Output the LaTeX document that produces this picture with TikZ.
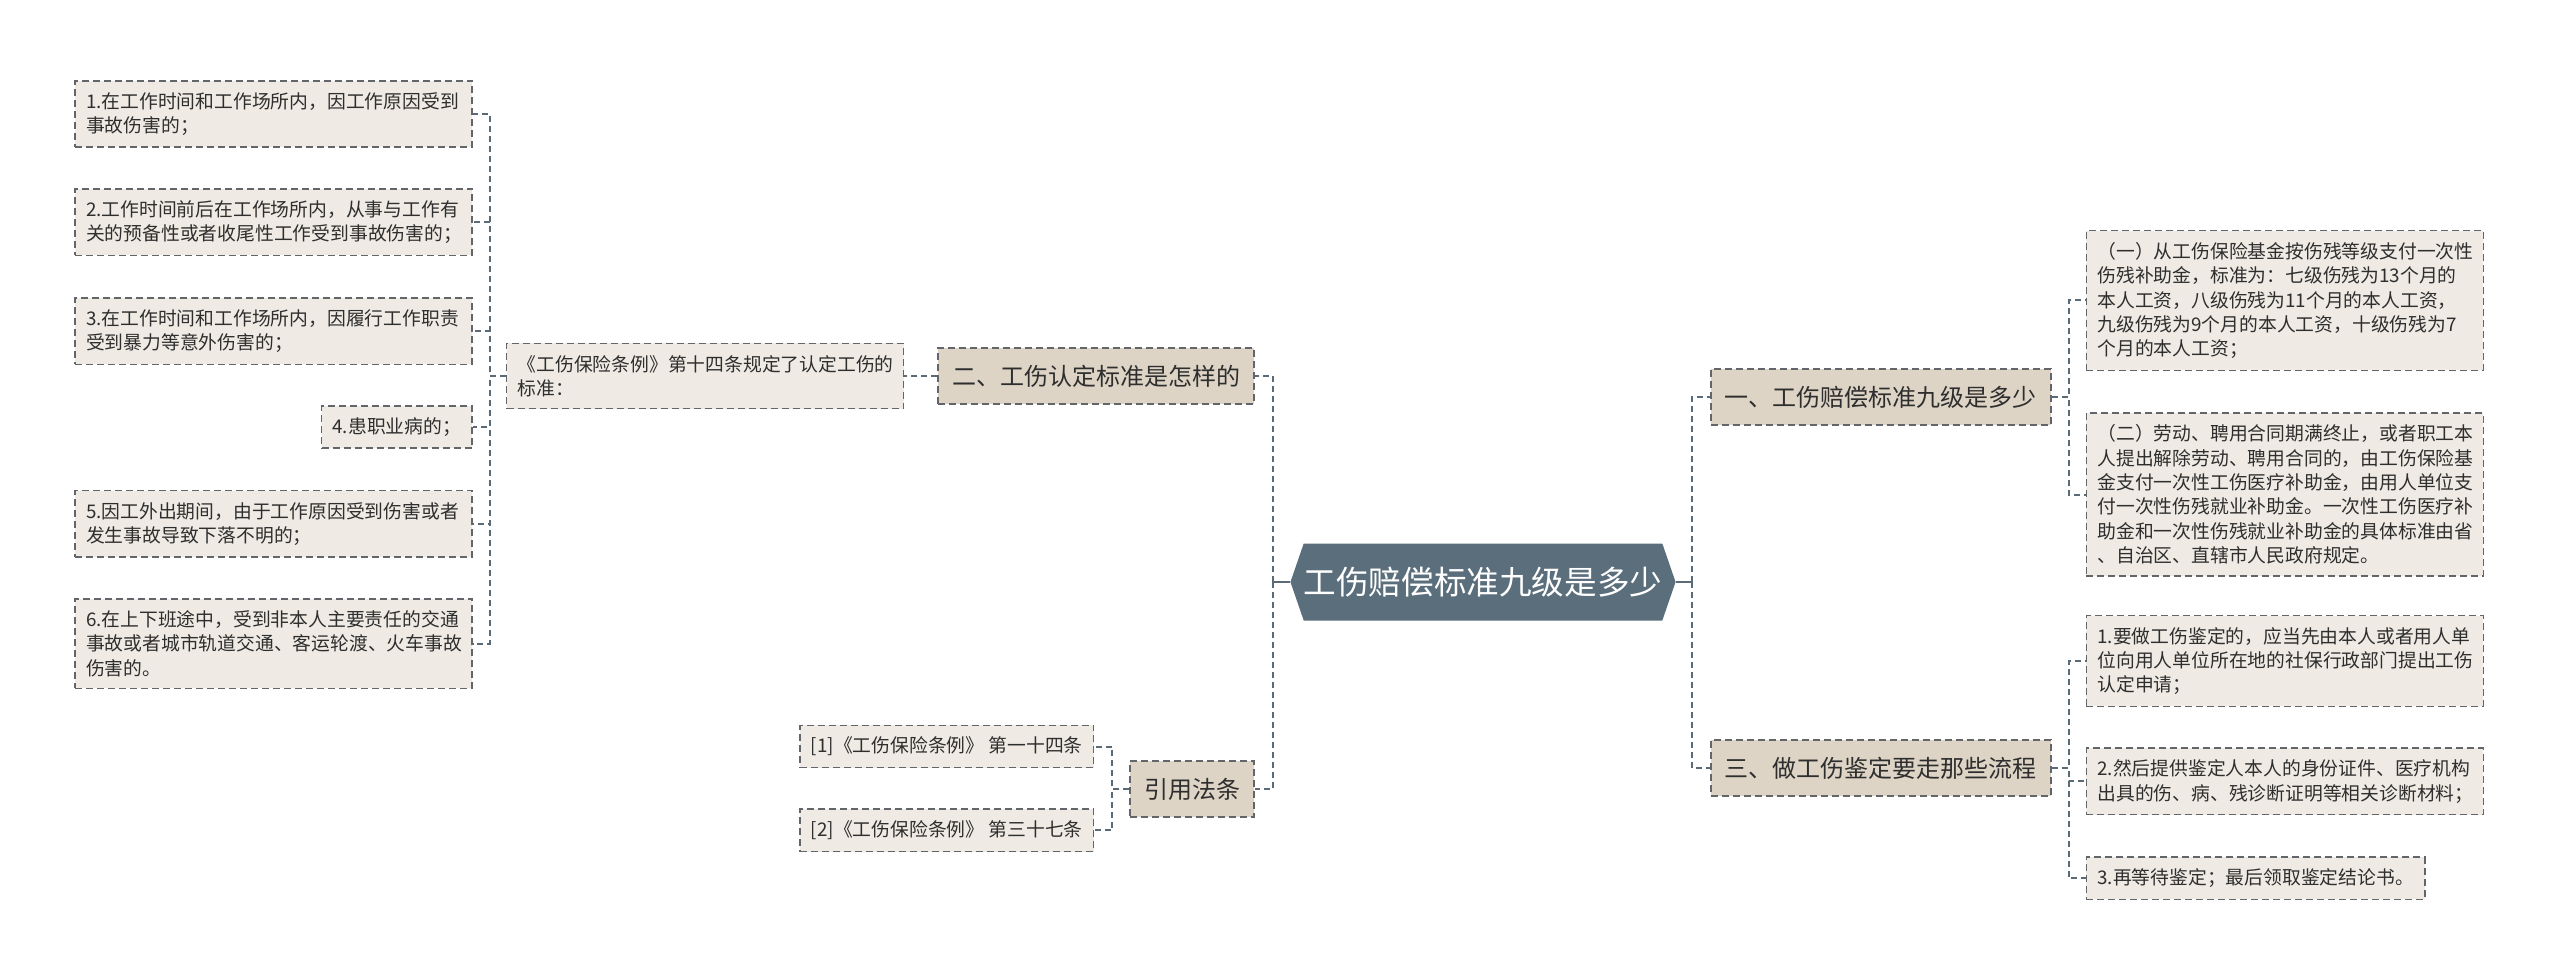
\documentclass[tikz,border=0pt]{standalone}
\usepackage{fontspec}
\newfontfamily\cjk{Noto Sans CJK SC}
\usepackage{tikz}
\usetikzlibrary{positioning,shapes.symbols}
\definecolor{hubfill}{HTML}{5B6E7B}
\definecolor{topicfill}{HTML}{DDD4C6}
\definecolor{leaffill}{HTML}{EFEBE4}
\definecolor{edge}{HTML}{62666A}
\definecolor{wire}{HTML}{5A6A76}
\definecolor{ink}{HTML}{2E2E2E}

\begin{document}
\begin{tikzpicture}[
  font=\cjk,
  hub/.style={signal, signal to=west and east, signal pointer angle=142, fill=hubfill, text=white, font=\cjk\fontsize{16.3}{19}\selectfont, minimum width=181pt, minimum height=38.5pt, inner sep=0pt},
  topic/.style={draw=edge, dash pattern=on 3.5pt off 2pt, line width=.8pt, fill=topicfill, text=ink, font=\cjk\fontsize{12}{14}\selectfont, minimum height=28pt, inner xsep=7pt},
  note/.style={draw=edge, dash pattern=on 3.5pt off 2pt, line width=.8pt, fill=leaffill, text=ink, font=\cjk\fontsize{9.4}{12.2}\selectfont, align=left, inner xsep=5.5pt, inner ysep=5.8pt},
  leaf/.style={note, text width=187.5pt},
  link/.style={draw=wire, line width=1pt, dash pattern=on 3pt off 2pt},
  stem/.style={draw=wire, line width=1pt}
]
  \useasboundingbox (0,0) rectangle (1280pt,-489pt);

  \node[hub] (root) at (741.5pt,-291pt) {工伤赔偿标准九级是多少};

  \node[topic, right=17pt of root, yshift=92.5pt] (one) {一、工伤赔偿标准九级是多少};
  \node[topic, right=17pt of root, yshift=-93pt] (three) {三、做工伤鉴定要走那些流程};
  \node[topic, left=17.5pt of root, yshift=103pt] (two) {二、工伤认定标准是怎样的};
  \node[topic, left=17.5pt of root, yshift=-103.5pt] (cite) {引用法条};

  \node[leaf, right=17pt of one, yshift=48.25pt] (r1) {（一）从工伤保险基金按伤残等级支付一次性\\伤残补助金，标准为：七级伤残为13个月的\\本人工资，八级伤残为11个月的本人工资，\\九级伤残为9个月的本人工资，十级伤残为7\\个月的本人工资；};
  \node[leaf, below=20.5pt of r1] (r2) {（二）劳动、聘用合同期满终止，或者职工本\\人提出解除劳动、聘用合同的，由工伤保险基\\金支付一次性工伤医疗补助金，由用人单位支\\付一次性伤残就业补助金。一次性工伤医疗补\\助金和一次性伤残就业补助金的具体标准由省\\、自治区、直辖市人民政府规定。};

  \node[leaf, right=17pt of three, yshift=53.5pt] (r3) {1.要做工伤鉴定的，应当先由本人或者用人单\\位向用人单位所在地的社保行政部门提出工伤\\认定申请；};
  \node[leaf, below=20pt of r3] (r4) {2.然后提供鉴定人本人的身份证件、医疗机构\\出具的伤、病、残诊断证明等相关诊断材料；};
  \node[note, below=20.5pt of r4.south west, anchor=north west] (r5) {3.再等待鉴定；最后领取鉴定结论书。};

  \node[leaf, left=16.5pt of two] (law) {《工伤保险条例》第十四条规定了认定工伤的\\标准：};
  \node[leaf, left=16.5pt of law, yshift=131pt] (l1) {1.在工作时间和工作场所内，因工作原因受到\\事故伤害的；};
  \node[leaf, below=20pt of l1] (l2) {2.工作时间前后在工作场所内，从事与工作有\\关的预备性或者收尾性工作受到事故伤害的；};
  \node[leaf, below=20.5pt of l2] (l3) {3.在工作时间和工作场所内，因履行工作职责\\受到暴力等意外伤害的；};
  \node[note, below=20pt of l3.south east, anchor=north east] (l4) {4.患职业病的；};
  \node[leaf, below=20.5pt of l4.south east, anchor=north east] (l5) {5.因工外出期间，由于工作原因受到伤害或者\\发生事故导致下落不明的；};
  \node[leaf, below=20pt of l5] (l6) {6.在上下班途中，受到非本人主要责任的交通\\事故或者城市轨道交通、客运轮渡、火车事故\\伤害的。};

  \node[note, left=17.5pt of cite, yshift=21.25pt] (c1) {[1]《工伤保险条例》 第一十四条};
  \node[note, below=20pt of c1] (c2) {[2]《工伤保险条例》 第三十七条};

  \draw[stem] (root.west) -- ++(-8.5pt,0) coordinate (lhub);
  \draw[stem] (root.east) -- ++(8pt,0) coordinate (rhub);
  \draw[link] (lhub) |- (two.east);
  \draw[link] (lhub) |- (cite.east);
  \draw[link] (rhub) |- (one.west);
  \draw[link] (rhub) |- (three.west);

  \draw[link] (one.east) -- ++(8.5pt,0) |- (r1.west);
  \draw[link] (one.east) -- ++(8.5pt,0) |- (r2.west);
  \draw[link] (three.east) -- ++(8.5pt,0) |- (r3.west);
  \draw[link] (three.east) -- ++(8.5pt,0) |- (r4.west);
  \draw[link] (three.east) -- ++(8.5pt,0) |- (r5.west);

  \draw[link] (two.west) -- (law.east);
  \draw[link] (law.west) -- ++(-8pt,0) |- (l1.east);
  \draw[link] (law.west) -- ++(-8pt,0) |- (l2.east);
  \draw[link] (law.west) -- ++(-8pt,0) |- (l3.east);
  \draw[link] (law.west) -- ++(-8pt,0) |- (l4.east);
  \draw[link] (law.west) -- ++(-8pt,0) |- (l5.east);
  \draw[link] (law.west) -- ++(-8pt,0) |- (l6.east);

  \draw[link] (cite.west) -- ++(-8.5pt,0) |- (c1.east);
  \draw[link] (cite.west) -- ++(-8.5pt,0) |- (c2.east);
\end{tikzpicture}
\end{document}
